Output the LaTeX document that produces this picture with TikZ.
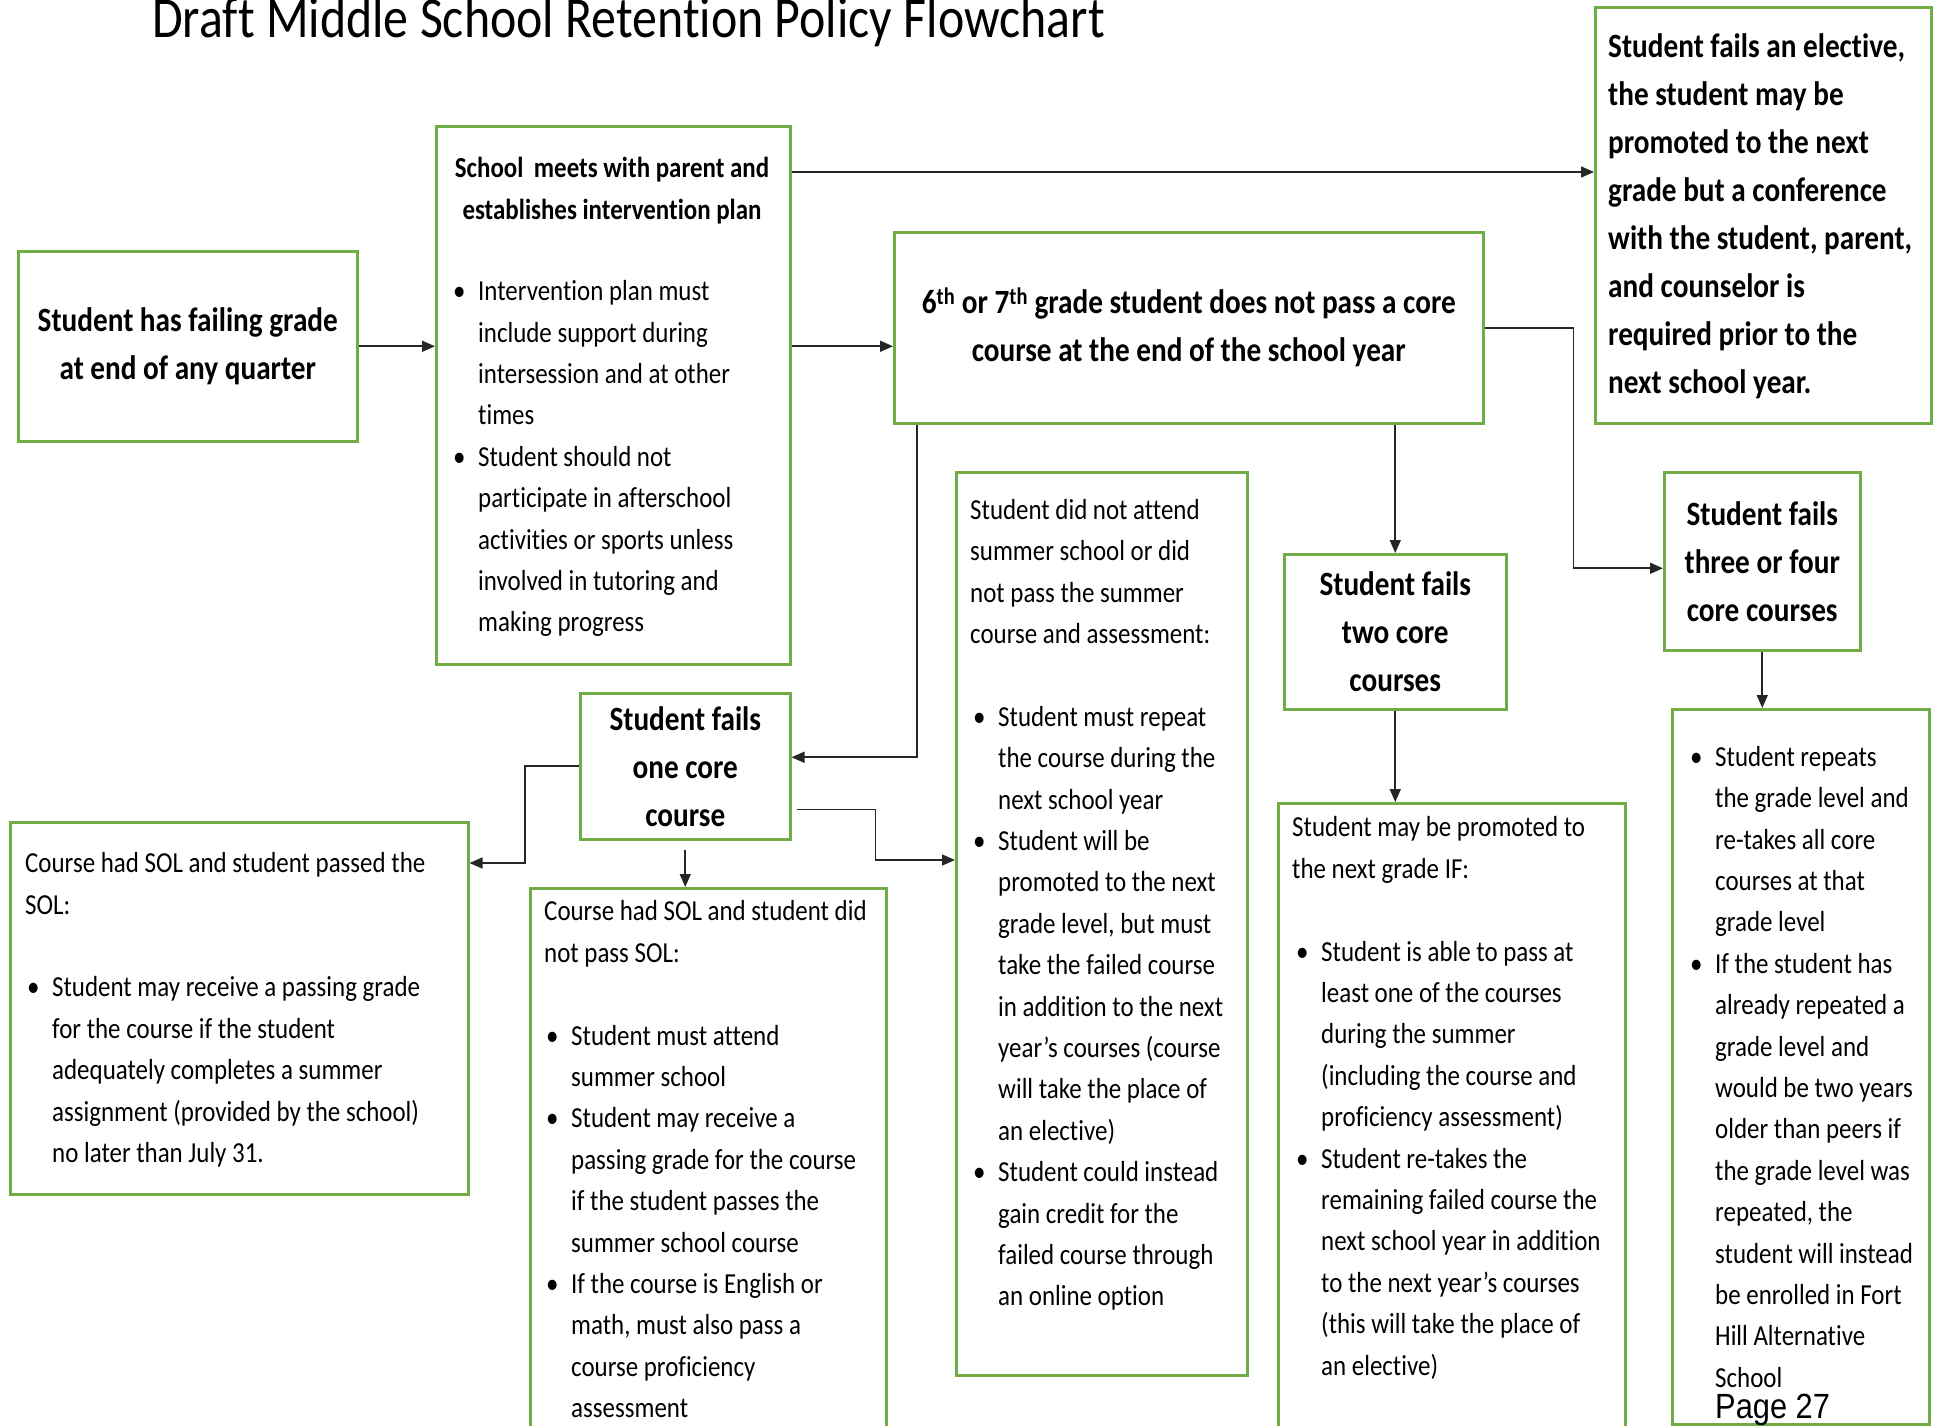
\documentclass[tikz,border=0pt]{standalone}
\usepackage{fontspec}
\setmainfont{Carlito}[FakeStretch=0.86,Ligatures=NoCommon]
\newfontfamily\pagefont{Liberation Sans}[FakeStretch=0.88]
\usetikzlibrary{arrows.meta}
\definecolor{boxgreen}{RGB}{112,173,71}
\newcommand{\bulind}{0pt}
\newcommand{\bulitem}{\hspace*{\bulind}\llap{\makebox[25pt][l]{\textbullet}}}
\newcommand{\bulcont}{\hspace*{\bulind}}

\begin{document}
\begin{tikzpicture}[x=1pt,y=-1pt,
    box/.style={draw=boxgreen,line width=2.5pt,inner sep=0pt,anchor=north west,align=center},
    txt/.style={inner sep=0pt,align=left,anchor=north west},
    conn/.style={draw=black!85,line width=1.6pt,-{Triangle[length=13pt,width=11pt]}}]
    \pgfmathsetmacro{\bodyskip}{41.4}
    \providecommand{\titlefont}{\fontsize{58}{70}\selectfont}
    \providecommand{\headfont}{\fontsize{34}{48}\selectfont\bfseries}
    \providecommand{\subheadfont}{\fontsize{29}{42}\selectfont\bfseries}
    \providecommand{\bodyfont}{\fontsize{29}{\bodyskip}\selectfont}
    \useasboundingbox (0,0) rectangle (1937,1425);

    \node[anchor=base west,inner sep=0pt,font=\titlefont] (title) at (152,37) {Draft Middle School Retention Policy Flowchart};

    % boxes
    \node[box,minimum width=339pt,minimum height=190pt,font=\headfont] (quarter) at (17,250) {Student has failing grade\\at end of any quarter};
    \node[box,minimum width=354pt,minimum height=538pt] (meet) at (435,125) {};
    \node[box,minimum width=589pt,minimum height=191pt,font=\headfont] (core) at (893,231) {6\textsuperscript{th} or 7\textsuperscript{th} grade student does not pass a core\\course at the end of the school year};
    \node[box,minimum width=336pt,minimum height=416pt] (elective) at (1594,6) {};
    \node[box,minimum width=196pt,minimum height=178pt,font=\headfont] (three) at (1663,471) {Student fails\\three or four\\core courses};
    \node[box,minimum width=222pt,minimum height=155pt,font=\headfont] (two) at (1283,553) {Student fails\\two core\\courses};
    \node[box,minimum width=291pt,minimum height=903pt] (summer) at (955,471) {};
    \node[box,minimum width=210pt,minimum height=146pt,font=\headfont] (one) at (579,692) {Student fails\\one core\\course};
    \node[box,minimum width=458pt,minimum height=372pt] (passed) at (9,821) {};
    \node[box,minimum width=356pt,minimum height=560pt] (notpassed) at (529,887) {};
    \node[box,minimum width=347pt,minimum height=640pt] (promote) at (1277,802) {};
    \node[box,minimum width=257pt,minimum height=715pt] (retake) at (1671,708) {};

    % texts
    \node[txt,anchor=north,align=center,font=\subheadfont] (meethead) at (612,147.6) {\strut School\, meets with parent and\\establishes intervention plan};
    \node[txt,font=\bodyfont] (meetlist) at (478,271.5) {\strut\bulitem Intervention plan must\\
        include support during\\intersession and at other\\times\\
        \bulitem Student should not\\participate in afterschool\\activities or sports unless\\involved in tutoring and\\making progress};
    \node[txt,font=\headfont] (electivetext) at (1608,23.4) {\strut Student fails an elective,\\the student may be\\promoted to the next\\grade but a conference\\with the student, parent,\\and counselor is\\required prior to the\\next school year.};
    \node[txt,font={\bodyfont\def\bulind{28pt}}] (summerlist) at (970,490) {\strut Student did not attend\\summer school or did\\not pass the summer\\course and assessment:\\[\bodyskip pt]
        \bulitem Student must repeat\\\bulcont the course during the\\\bulcont next school year\\
        \bulitem Student will be\\\bulcont promoted to the next\\\bulcont grade level, but must\\\bulcont take the failed course\\\bulcont in addition to the next\\\bulcont year’s courses (course\\\bulcont will take the place of\\\bulcont an elective)\\
        \bulitem Student could instead\\\bulcont gain credit for the\\\bulcont failed course through\\\bulcont an online option};
    \node[txt,font={\bodyfont\def\bulind{27pt}}] (passedlist) at (25,843.5) {\strut Course had SOL and student passed the\\SOL:\\[\bodyskip pt]
        \bulitem Student may receive a passing grade\\\bulcont for the course if the student\\\bulcont adequately completes a summer\\\bulcont assignment (provided by the school)\\\bulcont no later than July 31.};
    \node[txt,font={\bodyfont\def\bulind{27pt}}] (notpassedlist) at (544,891.6) {\strut Course had SOL and student did\\not pass SOL:\\[\bodyskip pt]
        \bulitem Student must attend\\\bulcont summer school\\
        \bulitem Student may receive a\\\bulcont passing grade for the course\\\bulcont if the student passes the\\\bulcont summer school course\\
        \bulitem If the course is English or\\\bulcont math, must also pass a\\\bulcont course proficiency\\\bulcont assessment};
    \node[txt,font={\bodyfont\def\bulind{29pt}}] (promotelist) at (1292,807.7) {\strut Student may be promoted to\\the next grade IF:\\[\bodyskip pt]
        \bulitem Student is able to pass at\\\bulcont least one of the courses\\\bulcont during the summer\\\bulcont (including the course and\\\bulcont proficiency assessment)\\
        \bulitem Student re-takes the\\\bulcont remaining failed course the\\\bulcont next school year in addition\\\bulcont to the next year’s courses\\\bulcont (this will take the place of\\\bulcont an elective)};
    \node[txt,font=\bodyfont] (retakelist) at (1715,737) {\strut\bulitem Student repeats\\the grade level and\\re-takes all core\\courses at that\\grade level\\
        \bulitem If the student has\\already repeated a\\grade level and\\would be two years\\older than peers if\\the grade level was\\repeated, the\\student will instead\\be enrolled in Fort\\Hill Alternative\\School};
    \node[anchor=base west,inner sep=0pt,font={\pagefont\fontsize{35}{40}\selectfont}] (page) at (1715,1418) {Page 27};

    % connectors
    \coordinate (meetout) at ([yshift=-47pt]meet.north east);
    \coordinate (coreout) at ([xshift=24pt]core.south west);
    \coordinate (oneout) at ([xshift=5pt,yshift=31pt]one.south east);
    \draw[conn] (quarter.east) -- (quarter.east -| meet.west);
    \draw[conn] (quarter.east -| meet.east) -- (quarter.east -| core.west);
    \draw[conn] (meetout) -- (meetout -| elective.west);
    \draw[conn] (coreout) |- ([yshift=9pt]one.east);
    \draw[conn] (core.south -| two.north) -- (two.north);
    \draw[conn] (core.east) -- ++(89,0) |- ([yshift=-7pt]three.west);
    \draw[conn] (three.south) -- (three.south |- retake.north);
    \draw[conn] (two.south) -- (two.south |- promote.north);
    \draw[conn] (one.west) -- ++(-54,0) |- ([yshift=-42pt]passed.north east);
    \draw[conn] ([yshift=-9pt]one.south) -- (one.south |- notpassed.north);
    \draw[conn] (oneout) -- ++(79,0) |- ([yshift=-389pt]summer.north west);
\end{tikzpicture}
\end{document}
